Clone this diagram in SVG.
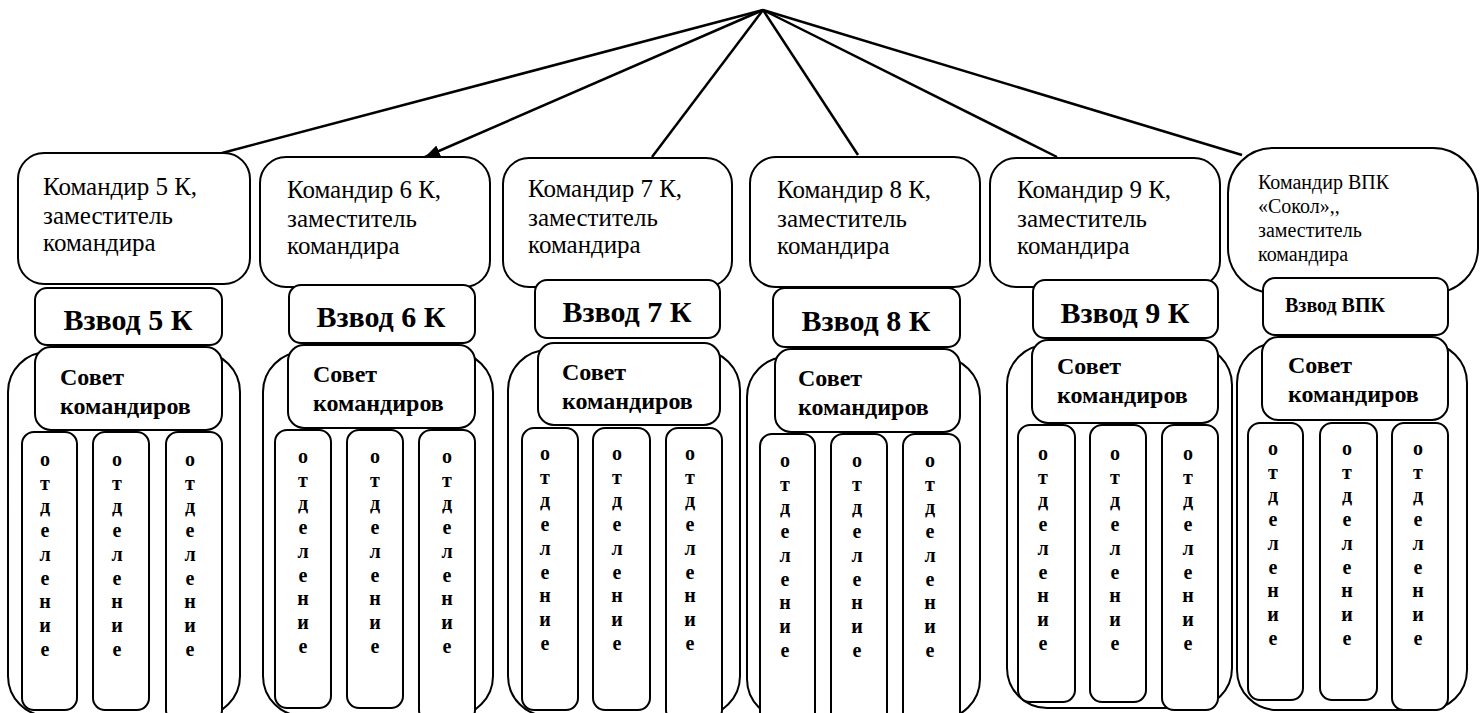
<svg xmlns="http://www.w3.org/2000/svg" width="1481" height="713" viewBox="0 0 1481 713">
<defs>
<style>
.box{fill:#fff;stroke:#000;stroke-width:2}
.ln{stroke:#000;stroke-width:2.5;fill:none}
.cmd{font-family:"Liberation Serif","Times New Roman",serif;font-size:25px;fill:#000}
.cmd6{font-family:"Liberation Serif","Times New Roman",serif;font-size:20px;fill:#000}
.vz{font-family:"Liberation Serif","Times New Roman",serif;font-size:30px;font-weight:bold;text-anchor:middle;fill:#000}
.vz6{font-family:"Liberation Serif","Times New Roman",serif;font-size:20px;font-weight:bold;fill:#000}
.sv{font-family:"Liberation Serif","Times New Roman",serif;font-size:24px;font-weight:bold;fill:#000}
.ot{font-family:"Liberation Serif","Times New Roman",serif;font-size:20px;font-weight:bold;text-anchor:middle;fill:#000}
</style>
<marker id="arr" markerUnits="userSpaceOnUse" markerWidth="16" markerHeight="12" refX="15" refY="6" orient="auto">
<path d="M0,0 L15,6 L0,12 z" fill="#000"/>
</marker>
</defs>

<g id="connectors">
<line class="ln" x1="763" y1="10" x2="222" y2="153"/>
<line class="ln" x1="763" y1="10" x2="425" y2="157" marker-end="url(#arr)"/>
<line class="ln" x1="763" y1="10" x2="652" y2="157"/>
<line class="ln" x1="763" y1="10" x2="858" y2="155"/>
<line class="ln" x1="763" y1="10" x2="1057" y2="157"/>
<line class="ln" x1="763" y1="10" x2="1242" y2="155"/>
</g>

<!-- Column 1 -->
<g id="container5">
<rect class="box" x="8" y="352" width="232" height="364" rx="40"/>
</g>
<g id="cmd5">
<rect class="box" x="18" y="153" width="232" height="131" rx="26"/>
<text class="cmd"><tspan x="43" y="195">Командир 5 К,</tspan><tspan x="43" y="224">заместитель</tspan><tspan x="43" y="251">командира</tspan></text>
</g>
<g id="vzvod5">
<rect class="box" x="35" y="288" width="187" height="57" rx="12"/>
<text class="vz" x="128" y="330">Взвод 5 К</text>
</g>
<g id="sovet5">
<rect class="box" x="35" y="347" width="187" height="83" rx="16"/>
<text class="sv"><tspan x="60" y="385">Совет</tspan><tspan x="60" y="414">командиров</tspan></text>
</g>
<g id="otd5a"><rect class="box" x="22" y="432" width="55" height="278" rx="12"/><text class="ot"><tspan x="45" y="466">о</tspan><tspan x="45" dy="23.7">т</tspan><tspan x="45" dy="23.7">д</tspan><tspan x="45" dy="23.7">е</tspan><tspan x="45" dy="23.7">л</tspan><tspan x="45" dy="23.7">е</tspan><tspan x="45" dy="23.7">н</tspan><tspan x="45" dy="23.7">и</tspan><tspan x="45" dy="23.7">е</tspan></text></g>
<g id="otd5b"><rect class="box" x="93" y="432" width="56" height="278" rx="12"/><text class="ot"><tspan x="117" y="466">о</tspan><tspan x="117" dy="23.7">т</tspan><tspan x="117" dy="23.7">д</tspan><tspan x="117" dy="23.7">е</tspan><tspan x="117" dy="23.7">л</tspan><tspan x="117" dy="23.7">е</tspan><tspan x="117" dy="23.7">н</tspan><tspan x="117" dy="23.7">и</tspan><tspan x="117" dy="23.7">е</tspan></text></g>
<g id="otd5c"><rect class="box" x="166" y="432" width="56" height="290" rx="12"/><text class="ot"><tspan x="190" y="466">о</tspan><tspan x="190" dy="23.7">т</tspan><tspan x="190" dy="23.7">д</tspan><tspan x="190" dy="23.7">е</tspan><tspan x="190" dy="23.7">л</tspan><tspan x="190" dy="23.7">е</tspan><tspan x="190" dy="23.7">н</tspan><tspan x="190" dy="23.7">и</tspan><tspan x="190" dy="23.7">е</tspan></text></g>

<!-- Column 2 -->
<g id="container6">
<rect class="box" x="263" y="352" width="230" height="364" rx="40"/>
</g>
<g id="cmd6">
<rect class="box" x="260" y="157" width="230" height="130" rx="26"/>
<text class="cmd"><tspan x="287" y="198">Командир 6 К,</tspan><tspan x="287" y="227">заместитель</tspan><tspan x="287" y="254">командира</tspan></text>
</g>
<g id="vzvod6">
<rect class="box" x="289" y="285" width="186" height="58" rx="12"/>
<text class="vz" x="381" y="327">Взвод 6 К</text>
</g>
<g id="sovet6">
<rect class="box" x="288" y="345" width="187" height="83" rx="16"/>
<text class="sv"><tspan x="313" y="382">Совет</tspan><tspan x="313" y="411">командиров</tspan></text>
</g>
<g id="otd6a"><rect class="box" x="275" y="430" width="56" height="278" rx="12"/><text class="ot"><tspan x="303" y="463">о</tspan><tspan x="303" dy="23.7">т</tspan><tspan x="303" dy="23.7">д</tspan><tspan x="303" dy="23.7">е</tspan><tspan x="303" dy="23.7">л</tspan><tspan x="303" dy="23.7">е</tspan><tspan x="303" dy="23.7">н</tspan><tspan x="303" dy="23.7">и</tspan><tspan x="303" dy="23.7">е</tspan></text></g>
<g id="otd6b"><rect class="box" x="347" y="430" width="56" height="278" rx="12"/><text class="ot"><tspan x="375" y="463">о</tspan><tspan x="375" dy="23.7">т</tspan><tspan x="375" dy="23.7">д</tspan><tspan x="375" dy="23.7">е</tspan><tspan x="375" dy="23.7">л</tspan><tspan x="375" dy="23.7">е</tspan><tspan x="375" dy="23.7">н</tspan><tspan x="375" dy="23.7">и</tspan><tspan x="375" dy="23.7">е</tspan></text></g>
<g id="otd6c"><rect class="box" x="419" y="430" width="56" height="292" rx="12"/><text class="ot"><tspan x="447" y="463">о</tspan><tspan x="447" dy="23.7">т</tspan><tspan x="447" dy="23.7">д</tspan><tspan x="447" dy="23.7">е</tspan><tspan x="447" dy="23.7">л</tspan><tspan x="447" dy="23.7">е</tspan><tspan x="447" dy="23.7">н</tspan><tspan x="447" dy="23.7">и</tspan><tspan x="447" dy="23.7">е</tspan></text></g>

<!-- Column 3 -->
<g id="container7">
<rect class="box" x="508" y="350" width="232" height="366" rx="40"/>
</g>
<g id="cmd7">
<rect class="box" x="503" y="158" width="229" height="129" rx="26"/>
<text class="cmd"><tspan x="528" y="197">Командир 7 К,</tspan><tspan x="528" y="226">заместитель</tspan><tspan x="528" y="253">командира</tspan></text>
</g>
<g id="vzvod7">
<rect class="box" x="535" y="280" width="185" height="58" rx="12"/>
<text class="vz" x="627" y="322">Взвод 7 К</text>
</g>
<g id="sovet7">
<rect class="box" x="538" y="343" width="182" height="82" rx="16"/>
<text class="sv"><tspan x="562" y="380">Совет</tspan><tspan x="562" y="409">командиров</tspan></text>
</g>
<g id="otd7a"><rect class="box" x="522" y="428" width="56" height="282" rx="12"/><text class="ot"><tspan x="545" y="460">о</tspan><tspan x="545" dy="23.7">т</tspan><tspan x="545" dy="23.7">д</tspan><tspan x="545" dy="23.7">е</tspan><tspan x="545" dy="23.7">л</tspan><tspan x="545" dy="23.7">е</tspan><tspan x="545" dy="23.7">н</tspan><tspan x="545" dy="23.7">и</tspan><tspan x="545" dy="23.7">е</tspan></text></g>
<g id="otd7b"><rect class="box" x="593" y="428" width="57" height="282" rx="12"/><text class="ot"><tspan x="617" y="460">о</tspan><tspan x="617" dy="23.7">т</tspan><tspan x="617" dy="23.7">д</tspan><tspan x="617" dy="23.7">е</tspan><tspan x="617" dy="23.7">л</tspan><tspan x="617" dy="23.7">е</tspan><tspan x="617" dy="23.7">н</tspan><tspan x="617" dy="23.7">и</tspan><tspan x="617" dy="23.7">е</tspan></text></g>
<g id="otd7c"><rect class="box" x="666" y="428" width="56" height="294" rx="12"/><text class="ot"><tspan x="690" y="460">о</tspan><tspan x="690" dy="23.7">т</tspan><tspan x="690" dy="23.7">д</tspan><tspan x="690" dy="23.7">е</tspan><tspan x="690" dy="23.7">л</tspan><tspan x="690" dy="23.7">е</tspan><tspan x="690" dy="23.7">н</tspan><tspan x="690" dy="23.7">и</tspan><tspan x="690" dy="23.7">е</tspan></text></g>

<!-- Column 4 -->
<g id="container8">
<rect class="box" x="747" y="357" width="233" height="362" rx="40"/>
</g>
<g id="cmd8">
<rect class="box" x="750" y="157" width="230" height="130" rx="26"/>
<text class="cmd"><tspan x="777" y="198">Командир 8 К,</tspan><tspan x="777" y="227">заместитель</tspan><tspan x="777" y="254">командира</tspan></text>
</g>
<g id="vzvod8">
<rect class="box" x="773" y="288" width="187" height="59" rx="12"/>
<text class="vz" x="866" y="331">Взвод 8 К</text>
</g>
<g id="sovet8">
<rect class="box" x="775" y="349" width="185" height="83" rx="16"/>
<text class="sv"><tspan x="798" y="386">Совет</tspan><tspan x="798" y="415">командиров</tspan></text>
</g>
<g id="otd8a"><rect class="box" x="760" y="434" width="55" height="290" rx="12"/><text class="ot"><tspan x="785" y="467">о</tspan><tspan x="785" dy="23.7">т</tspan><tspan x="785" dy="23.7">д</tspan><tspan x="785" dy="23.7">е</tspan><tspan x="785" dy="23.7">л</tspan><tspan x="785" dy="23.7">е</tspan><tspan x="785" dy="23.7">н</tspan><tspan x="785" dy="23.7">и</tspan><tspan x="785" dy="23.7">е</tspan></text></g>
<g id="otd8b"><rect class="box" x="831" y="434" width="56" height="290" rx="12"/><text class="ot"><tspan x="857" y="467">о</tspan><tspan x="857" dy="23.7">т</tspan><tspan x="857" dy="23.7">д</tspan><tspan x="857" dy="23.7">е</tspan><tspan x="857" dy="23.7">л</tspan><tspan x="857" dy="23.7">е</tspan><tspan x="857" dy="23.7">н</tspan><tspan x="857" dy="23.7">и</tspan><tspan x="857" dy="23.7">е</tspan></text></g>
<g id="otd8c"><rect class="box" x="903" y="434" width="57" height="290" rx="12"/><text class="ot"><tspan x="930" y="467">о</tspan><tspan x="930" dy="23.7">т</tspan><tspan x="930" dy="23.7">д</tspan><tspan x="930" dy="23.7">е</tspan><tspan x="930" dy="23.7">л</tspan><tspan x="930" dy="23.7">е</tspan><tspan x="930" dy="23.7">н</tspan><tspan x="930" dy="23.7">и</tspan><tspan x="930" dy="23.7">е</tspan></text></g>

<!-- Column 5 -->
<g id="container9">
<rect class="box" x="1007" y="345" width="225" height="363" rx="40"/>
</g>
<g id="cmd9">
<rect class="box" x="990" y="158" width="230" height="129" rx="26"/>
<text class="cmd"><tspan x="1017" y="198">Командир 9 К,</tspan><tspan x="1017" y="227">заместитель</tspan><tspan x="1017" y="254">командира</tspan></text>
</g>
<g id="vzvod9">
<rect class="box" x="1033" y="280" width="185" height="58" rx="12"/>
<text class="vz" x="1125" y="323">Взвод 9 К</text>
</g>
<g id="sovet9">
<rect class="box" x="1032" y="340" width="186" height="83" rx="16"/>
<text class="sv"><tspan x="1057" y="374">Совет</tspan><tspan x="1057" y="403">командиров</tspan></text>
</g>
<g id="otd9a"><rect class="box" x="1018" y="425" width="57" height="277" rx="12"/><text class="ot"><tspan x="1043" y="460">о</tspan><tspan x="1043" dy="23.7">т</tspan><tspan x="1043" dy="23.7">д</tspan><tspan x="1043" dy="23.7">е</tspan><tspan x="1043" dy="23.7">л</tspan><tspan x="1043" dy="23.7">е</tspan><tspan x="1043" dy="23.7">н</tspan><tspan x="1043" dy="23.7">и</tspan><tspan x="1043" dy="23.7">е</tspan></text></g>
<g id="otd9b"><rect class="box" x="1090" y="425" width="56" height="277" rx="12"/><text class="ot"><tspan x="1115" y="460">о</tspan><tspan x="1115" dy="23.7">т</tspan><tspan x="1115" dy="23.7">д</tspan><tspan x="1115" dy="23.7">е</tspan><tspan x="1115" dy="23.7">л</tspan><tspan x="1115" dy="23.7">е</tspan><tspan x="1115" dy="23.7">н</tspan><tspan x="1115" dy="23.7">и</tspan><tspan x="1115" dy="23.7">е</tspan></text></g>
<g id="otd9c"><rect class="box" x="1162" y="425" width="56" height="285" rx="12"/><text class="ot"><tspan x="1188" y="460">о</tspan><tspan x="1188" dy="23.7">т</tspan><tspan x="1188" dy="23.7">д</tspan><tspan x="1188" dy="23.7">е</tspan><tspan x="1188" dy="23.7">л</tspan><tspan x="1188" dy="23.7">е</tspan><tspan x="1188" dy="23.7">н</tspan><tspan x="1188" dy="23.7">и</tspan><tspan x="1188" dy="23.7">е</tspan></text></g>

<!-- Column 6 -->
<g id="containerVPK">
<rect class="box" x="1237" y="343" width="230" height="367" rx="40"/>
</g>
<g id="cmdVPK">
<rect class="box" x="1228" y="148" width="250" height="145" rx="45"/>
<text class="cmd6"><tspan x="1258" y="189">Командир ВПК</tspan><tspan x="1258" y="213">«Сокол»,,</tspan><tspan x="1258" y="237">заместитель</tspan><tspan x="1258" y="261">командира</tspan></text>
</g>
<g id="vzvodVPK">
<rect class="box" x="1263" y="278" width="185" height="57" rx="12"/>
<text class="vz6" x="1285" y="312">Взвод ВПК</text>
</g>
<g id="sovetVPK">
<rect class="box" x="1262" y="337" width="186" height="83" rx="16"/>
<text class="sv"><tspan x="1288" y="373">Совет</tspan><tspan x="1288" y="402">командиров</tspan></text>
</g>
<g id="otdVPKa"><rect class="box" x="1248" y="423" width="55" height="277" rx="12"/><text class="ot"><tspan x="1273" y="455">о</tspan><tspan x="1273" dy="23.7">т</tspan><tspan x="1273" dy="23.7">д</tspan><tspan x="1273" dy="23.7">е</tspan><tspan x="1273" dy="23.7">л</tspan><tspan x="1273" dy="23.7">е</tspan><tspan x="1273" dy="23.7">н</tspan><tspan x="1273" dy="23.7">и</tspan><tspan x="1273" dy="23.7">е</tspan></text></g>
<g id="otdVPKb"><rect class="box" x="1320" y="423" width="57" height="277" rx="12"/><text class="ot"><tspan x="1347" y="455">о</tspan><tspan x="1347" dy="23.7">т</tspan><tspan x="1347" dy="23.7">д</tspan><tspan x="1347" dy="23.7">е</tspan><tspan x="1347" dy="23.7">л</tspan><tspan x="1347" dy="23.7">е</tspan><tspan x="1347" dy="23.7">н</tspan><tspan x="1347" dy="23.7">и</tspan><tspan x="1347" dy="23.7">е</tspan></text></g>
<g id="otdVPKc"><rect class="box" x="1392" y="423" width="56" height="287" rx="12"/><text class="ot"><tspan x="1418" y="455">о</tspan><tspan x="1418" dy="23.7">т</tspan><tspan x="1418" dy="23.7">д</tspan><tspan x="1418" dy="23.7">е</tspan><tspan x="1418" dy="23.7">л</tspan><tspan x="1418" dy="23.7">е</tspan><tspan x="1418" dy="23.7">н</tspan><tspan x="1418" dy="23.7">и</tspan><tspan x="1418" dy="23.7">е</tspan></text></g>
</svg>
